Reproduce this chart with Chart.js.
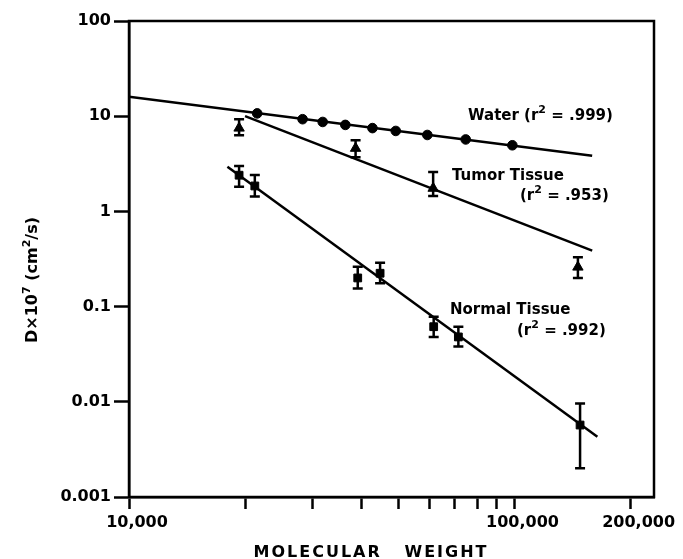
<!DOCTYPE html>
<html>
<head>
<meta charset="utf-8">
<script src="https://cdn.jsdelivr.net/npm/chart.js@4.4.1/dist/chart.umd.min.js"></script>
<style>
  html, body { margin: 0; padding: 0; background: #fff; }
  #wrap { width: 683px; height: 559px; }
</style>
</head>
<body>
<div id="wrap"><canvas id="c" width="683" height="559"></canvas></div>
<script>
/* ---------- data ---------- */
const xTicks = [10000, 20000, 30000, 40000, 50000, 60000, 70000, 80000, 90000, 100000, 200000];
const xTickLabels = { 10000: "10,000", 100000: "100,000", 200000: "200,000" };
const yTicks = [0.001, 0.01, 0.1, 1, 10, 100];
const yTickLabels = { 0.001: "0.001", 0.01: "0.01", 0.1: "0.1", 1: "1", 10: "10", 100: "100" };

const waterMW = [21500, 28200, 31800, 36400, 42800, 49200, 59400, 74700, 98700];
const waterD  = [10.7, 9.3, 8.7, 8.1, 7.5, 7.0, 6.35, 5.7, 4.95];

const tumorMW   = [19300, 38700, 61500, 146000];
const tumorD    = [7.5, 4.6, 1.75, 0.26];
const tumorLow  = [6.3, 3.7, 1.45, 0.2];
const tumorHigh = [9.3, 5.6, 2.6, 0.33];

const normalMW   = [19300, 21200, 39200, 44800, 61700, 71500, 147900];
const normalD    = [2.4, 1.85, 0.2, 0.224, 0.0615, 0.048, 0.0057];
const normalLow  = [1.82, 1.43, 0.155, 0.176, 0.048, 0.038, 0.002];
const normalHigh = [3.0, 2.41, 0.262, 0.289, 0.078, 0.0615, 0.0096];

// regression lines (end points)
const waterFitMW  = [10000, 159000];
const waterFitD   = [16.0, 3.85];
const tumorFitMW  = [20000, 159000];
const tumorFitD   = [10.0, 0.387];
const normalFitMW = [18000, 164000];
const normalFitD  = [2.95, 0.0043];

const FONT = '"DejaVu Sans", sans-serif';
const pts = (xs, ys) => xs.map((x, i) => ({ x, y: ys[i] }));

/* ---------- helpers ---------- */
function richWidth(ctx, parts, size) {
  let w = 0;
  parts.forEach(([t, sup]) => {
    ctx.font = `bold ${sup ? Math.round(size * 0.7) : size}px ${FONT}`;
    w += ctx.measureText(t).width;
  });
  return w;
}
function drawRich(ctx, parts, x, y, size) {
  let cx = x;
  parts.forEach(([t, sup]) => {
    ctx.font = `bold ${sup ? Math.round(size * 0.7) : size}px ${FONT}`;
    ctx.fillText(t, cx, sup ? y - size * 0.45 : y);
    cx += ctx.measureText(t).width;
  });
}

/* ---------- plugins ---------- */
const errorBars = {
  id: "errorBars",
  afterDatasetsDraw(chart) {
    const { ctx, scales: { x, y } } = chart;
    ctx.save();
    ctx.strokeStyle = "#000";
    ctx.lineWidth = 2.5;
    chart.data.datasets.forEach(ds => {
      if (!ds.errLow) return;
      ds.data.forEach((p, i) => {
        const px = x.getPixelForValue(p.x);
        const y1 = y.getPixelForValue(ds.errLow[i]);
        const y2 = y.getPixelForValue(ds.errHigh[i]);
        ctx.beginPath();
        ctx.moveTo(px, y1); ctx.lineTo(px, y2);
        ctx.moveTo(px - 5, y1); ctx.lineTo(px + 5, y1);
        ctx.moveTo(px - 5, y2); ctx.lineTo(px + 5, y2);
        ctx.stroke();
      });
    });
    ctx.restore();
  }
};

const frameAndText = {
  id: "frameAndText",
  afterDraw(chart) {
    const { ctx, chartArea: a } = chart;
    ctx.save();
    ctx.strokeStyle = "#000";
    ctx.lineWidth = 2.5;
    ctx.strokeRect(a.left, a.top, a.right - a.left, a.bottom - a.top);

    ctx.fillStyle = "#000";
    ctx.textBaseline = "alphabetic";
    ctx.textAlign = "left";

    // annotations
    drawRich(ctx, [["Water (r"], ["2", 1], [" = .999)"]], 468, 120, 15);
    drawRich(ctx, [["Tumor Tissue"]], 452, 180, 15);
    drawRich(ctx, [["(r"], ["2", 1], [" = .953)"]], 520, 200, 15);
    drawRich(ctx, [["Normal Tissue"]], 450, 314, 15);
    drawRich(ctx, [["(r"], ["2", 1], [" = .992)"]], 517, 335, 15);

    // x title
    ctx.font = `bold 16px ${FONT}`;
    ctx.textAlign = "center";
    if ("letterSpacing" in ctx) ctx.letterSpacing = "2px";
    ctx.fillText("MOLECULAR   WEIGHT", 371, 557);
    if ("letterSpacing" in ctx) ctx.letterSpacing = "0px";

    // y title
    const yParts = [["D×10"], ["7", 1], [" (cm"], ["2", 1], ["/s)"]];
    const w = richWidth(ctx, yParts, 16);
    ctx.textAlign = "left";
    ctx.translate(37, 280);
    ctx.rotate(-Math.PI / 2);
    drawRich(ctx, yParts, -w / 2, 0, 16);
    ctx.restore();
  }
};

/* ---------- chart ---------- */
const lineDs = (xs, ys) => ({
  data: pts(xs, ys), showLine: true, pointRadius: 0,
  borderColor: "#000", borderWidth: 2.5, order: 2
});
const markDs = (xs, ys, style, r, lo, hi) => ({
  data: pts(xs, ys), showLine: false, pointStyle: style, pointRadius: r,
  backgroundColor: "#000", borderColor: "#000", borderWidth: 1,
  errLow: lo, errHigh: hi, order: 1
});

new Chart(document.getElementById("c"), {
  type: "scatter",
  data: {
    datasets: [
      lineDs(waterFitMW, waterFitD),
      lineDs(tumorFitMW, tumorFitD),
      lineDs(normalFitMW, normalFitD),
      markDs(waterMW, waterD, "circle", 4.8),
      markDs(tumorMW, tumorD, "triangle", 6, tumorLow, tumorHigh),
      markDs(normalMW, normalD, "rect", 5.5, normalLow, normalHigh)
    ]
  },
  options: {
    responsive: false,
    animation: false,
    layout: { padding: { left: 0, right: 29, top: 21, bottom: 0 } },
    plugins: { legend: { display: false }, tooltip: { enabled: false } },
    scales: {
      x: {
        type: "logarithmic", min: 10000, max: 230000,
        afterBuildTicks: s => { s.ticks = xTicks.map(v => ({ value: v })); },
        afterFit: s => { s.height = 62; },
        grid: { drawOnChartArea: false, drawTicks: true, tickLength: 12, tickColor: "#000", tickWidth: 2.5 },
        border: { display: true, color: "#000", width: 2.5 },
        ticks: {
          autoSkip: false, maxRotation: 0, padding: 4, labelOffset: 8, color: "#000",
          font: { family: FONT, size: 16, weight: "bold" },
          callback: v => xTickLabels[v] || ""
        }
      },
      y: {
        type: "logarithmic", min: 0.001, max: 100,
        afterBuildTicks: s => { s.ticks = yTicks.map(v => ({ value: v })); },
        afterFit: s => { s.width = 129; },
        grid: { drawOnChartArea: false, drawTicks: true, tickLength: 15, tickColor: "#000", tickWidth: 2.5 },
        border: { display: true, color: "#000", width: 2.5 },
        ticks: {
          autoSkip: false, padding: 3, color: "#000",
          font: { family: FONT, size: 16, weight: "bold" },
          callback: v => yTickLabels[v] || ""
        }
      }
    }
  },
  plugins: [errorBars, frameAndText]
});
</script>
</body>
</html>
